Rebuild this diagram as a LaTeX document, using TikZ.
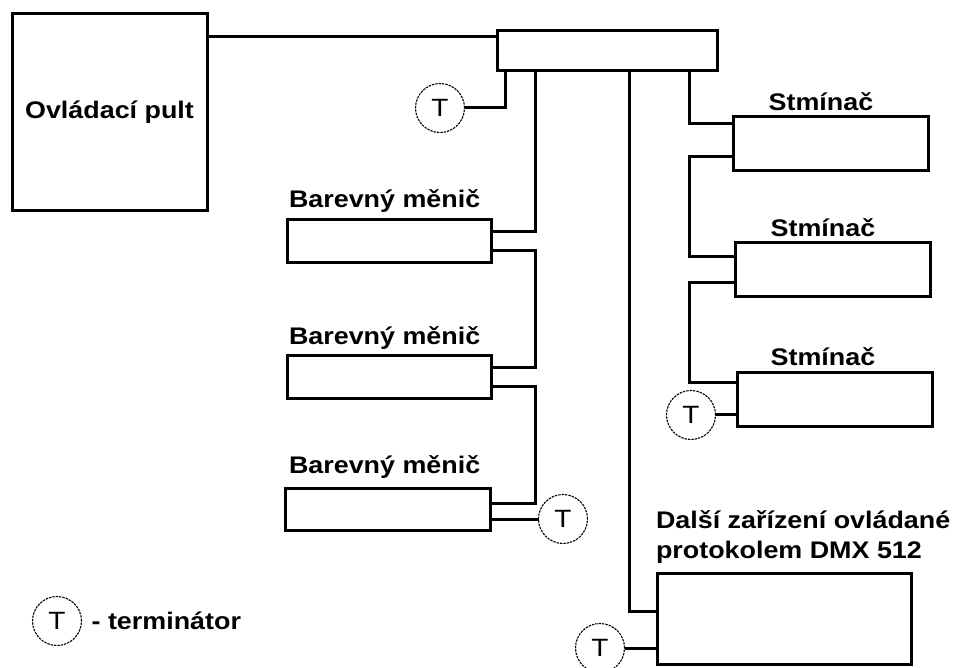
\documentclass[tikz,border=0pt]{standalone}
\usepackage{fontspec}
\newfontfamily\lbl[FakeStretch=1.12]{Liberation Sans}
\begin{document}
\begin{tikzpicture}[x=1pt,y=-1pt,
  box/.style={draw, line width=3pt, inner sep=0pt, outer sep=0pt, line join=miter},
  wire/.style={line width=3pt, line join=miter},
  term/.style={circle, draw, line width=1.1pt, dash pattern=on 2.4pt off 1pt,
    minimum size=49pt, inner sep=0pt, outer sep=0pt, font=\lbl\fontsize{25}{29}\selectfont},
  lab/.style={inner sep=0pt, outer sep=0pt, font=\lbl\bfseries\fontsize{24}{28}\selectfont}]
\useasboundingbox (0,0) rectangle (954,668);

% boxes
\node[box, minimum width=195pt, minimum height=197pt, font=\lbl\bfseries\fontsize{24}{28}\selectfont] (pult) at (109.5,112.5) {Ovládací pult};
\node[box, minimum width=220pt, minimum height=40pt] (top) at (607,51) {};
\node[box, minimum width=204pt, minimum height=43pt] (b1) at (389,241.5) {};
\node[box, minimum width=204pt, minimum height=43pt] (b2) at (389,377.5) {};
\node[box, minimum width=205pt, minimum height=42pt] (b3) at (388,509.5) {};
\node[box, minimum width=195pt, minimum height=54pt] (s1) at (830.5,144) {};
\node[box, minimum width=195pt, minimum height=54pt] (s2) at (832.5,270) {};
\node[box, minimum width=195pt, minimum height=54pt] (s3) at (834.5,400) {};
\node[box, minimum width=254pt, minimum height=91pt] (dmx) at (784,618.5) {};

% labels
\node[lab, anchor=base west] (lb1) at (289,207.5) {Barevný měnič};
\node[lab, anchor=base west] (lb2) at (289,345) {Barevný měnič};
\node[lab, anchor=base west] (lb3) at (289,473) {Barevný měnič};
\node[lab, anchor=base] (ls1) at (821,110.5) {Stmínač};
\node[lab, anchor=base] (ls2) at (823,236.5) {Stmínač};
\node[lab, anchor=base] (ls3) at (823,366) {Stmínač};
\node[lab, anchor=base west] (ld1) at (656,528) {Další zařízení ovládané};
\node[lab, anchor=base west] (ld2) at (656,558) {protokolem DMX 512};

% terminators
\node[term] (t1) at (440,108) {T};
\node[term] (t2) at (563,519) {T};
\node[term] (t3) at (691,415) {T};
\node[term] (t4) at (600,648) {T};
\node[term] (tl) at (57,621) {T};
\node[lab, anchor=base east] (legend) at (241,629) {-~terminátor};

% helper coordinates
\coordinate (c37) at (0,37);
\coordinate (x505) at (505,0);
\coordinate (x535) at (535,0);
\coordinate (x629) at (629,0);
\coordinate (x689) at (689,0);

\coordinate (b1in) at ([yshift=9.5pt]b1.east);
\coordinate (b1out) at ([yshift=-9.5pt]b1.east);
\coordinate (b2in) at ([yshift=9.5pt]b2.east);
\coordinate (b2out) at ([yshift=-9.5pt]b2.east);
\coordinate (b3in) at ([yshift=6.5pt]b3.east);
\coordinate (b3out) at ([yshift=-9.5pt]b3.east);
\coordinate (s1in) at ([yshift=20pt]s1.west);
\coordinate (s1out) at ([yshift=-13pt]s1.west);
\coordinate (s2in) at ([yshift=13pt]s2.west);
\coordinate (s2out) at ([yshift=-13pt]s2.west);
\coordinate (s3in) at ([yshift=17pt]s3.west);
\coordinate (s3out) at ([yshift=-15pt]s3.west);
\coordinate (din) at ([yshift=7.5pt]dmx.west);
\coordinate (dout) at ([yshift=-29.5pt]dmx.west);

% wires
\draw[wire] (pult.east |- c37) -- (top.west |- c37);
\draw[wire] (top.south -| x505) |- (t1.east);
\draw[wire] (top.south -| x535) |- (b1in);
\draw[wire] (b1out) -- (b1out -| x535) -- (b2in -| x535) -- (b2in);
\draw[wire] (b2out) -- (b2out -| x535) -- (b3in -| x535) -- (b3in);
\draw[wire] (b3out) -- (t2.west);
\draw[wire] (top.south -| x629) |- (din);
\draw[wire] (dout) -- (t4.east);
\draw[wire] (top.south -| x689) |- (s1in);
\draw[wire] (s1out) -- (s1out -| x689) -- (s2in -| x689) -- (s2in);
\draw[wire] (s2out) -- (s2out -| x689) -- (s3in -| x689) -- (s3in);
\draw[wire] (s3out) -- (t3.east);
\end{tikzpicture}
\end{document}
